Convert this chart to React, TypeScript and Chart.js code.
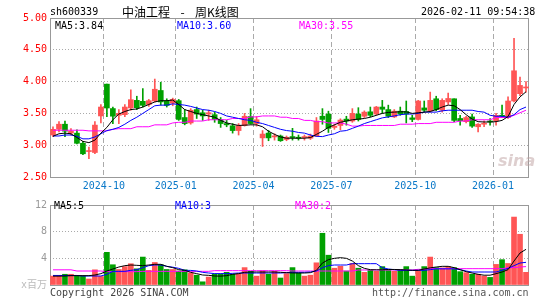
import React, { useEffect, useRef } from "react";
import { Chart, registerables } from "chart.js";

Chart.register(...registerables);

const MONO = '"DejaVu Sans Mono", "Liberation Mono", monospace';
const CJK = '"Noto Sans CJK SC", "Noto Sans", sans-serif';

const categories = [
  "2024-08-09","2024-08-16","2024-08-23","2024-08-30","2024-09-06","2024-09-13","2024-09-20","2024-09-27","2024-09-30","2024-10-11",
  "2024-10-18","2024-10-25","2024-11-01","2024-11-08","2024-11-15","2024-11-22","2024-11-29","2024-12-06","2024-12-13","2024-12-20",
  "2024-12-27","2025-01-03","2025-01-10","2025-01-17","2025-01-24","2025-01-27","2025-02-07","2025-02-14","2025-02-21","2025-02-28",
  "2025-03-07","2025-03-14","2025-03-21","2025-03-28","2025-04-03","2025-04-11","2025-04-18","2025-04-25","2025-04-30","2025-05-09",
  "2025-05-16","2025-05-23","2025-05-30","2025-06-06","2025-06-13","2025-06-20","2025-06-27","2025-07-04","2025-07-11","2025-07-18",
  "2025-07-25","2025-08-01","2025-08-08","2025-08-15","2025-08-22","2025-08-29","2025-09-05","2025-09-12","2025-09-19","2025-09-26",
  "2025-09-30","2025-10-10","2025-10-17","2025-10-24","2025-10-31","2025-11-07","2025-11-14","2025-11-21","2025-11-28","2025-12-05",
  "2025-12-12","2025-12-19","2025-12-26","2025-12-31","2026-01-09","2026-01-16","2026-01-23","2026-01-30","2026-02-06","2026-02-11",
];

const monthTickLabels = ["2024-10", "2025-01", "2025-04", "2025-07", "2025-10", "2026-01"];

const openPrices = [
  3.16,3.25,3.33,3.19,3.19,3.03,2.90,2.885,3.46,3.96,
  3.576,3.47,3.48,3.585,3.705,3.69,3.64,3.695,3.86,3.695,
  3.66,3.70,3.435,3.35,3.56,3.51,3.49,3.48,3.40,3.34,
  3.305,3.23,3.31,3.45,3.34,3.115,3.19,3.13,3.145,3.09,
  3.13,3.12,3.12,3.11,3.145,3.455,3.49,3.28,3.31,3.41,
  3.38,3.49,3.455,3.525,3.49,3.60,3.56,3.445,3.535,3.53,
  3.43,3.405,3.586,3.54,3.73,3.55,3.68,3.73,3.42,3.37,
  3.445,3.29,3.33,3.37,3.385,3.46,3.435,3.695,3.81,3.90,
];
const closePrices = [
  3.25,3.33,3.22,3.22,3.03,2.865,2.91,3.316,3.60,3.585,
  3.456,3.50,3.60,3.716,3.59,3.627,3.70,3.88,3.68,3.625,
  3.72,3.405,3.34,3.55,3.49,3.46,3.51,3.405,3.34,3.32,
  3.23,3.31,3.455,3.34,3.40,3.175,3.115,3.145,3.07,3.125,
  3.12,3.11,3.135,3.145,3.38,3.405,3.265,3.30,3.395,3.38,
  3.50,3.405,3.52,3.47,3.60,3.565,3.455,3.535,3.49,3.49,
  3.405,3.695,3.55,3.705,3.56,3.705,3.735,3.39,3.385,3.435,
  3.30,3.33,3.335,3.365,3.47,3.455,3.695,4.17,3.94,3.915,
];
const highPrices = [
  3.29,3.37,3.38,3.26,3.24,3.06,2.97,3.37,3.64,3.96,
  3.60,3.56,3.64,3.87,3.77,3.89,3.72,4.04,3.99,3.73,
  3.74,3.72,3.56,3.575,3.60,3.55,3.55,3.52,3.435,3.39,
  3.34,3.34,3.50,3.575,3.45,3.23,3.23,3.18,3.16,3.145,
  3.265,3.16,3.16,3.175,3.435,3.575,3.535,3.33,3.415,3.455,
  3.575,3.59,3.54,3.60,3.61,3.705,3.63,3.56,3.60,3.695,
  3.47,3.705,3.695,3.835,3.77,3.73,3.82,3.73,3.47,3.455,
  3.49,3.34,3.385,3.42,3.50,3.63,3.76,4.68,4.07,4.00,
];
const lowPrices = [
  3.135,3.21,3.135,3.16,3.02,2.85,2.79,2.865,3.35,3.45,
  3.34,3.34,3.45,3.55,3.56,3.60,3.61,3.68,3.63,3.60,
  3.62,3.39,3.32,3.33,3.42,3.39,3.39,3.36,3.28,3.29,
  3.19,3.16,3.30,3.33,3.30,2.98,3.07,3.08,3.06,3.07,
  3.08,3.08,3.08,3.09,3.135,3.33,3.20,3.25,3.24,3.315,
  3.36,3.38,3.435,3.445,3.47,3.50,3.435,3.435,3.47,3.35,
  3.37,3.395,3.52,3.52,3.54,3.52,3.64,3.37,3.315,3.35,
  3.28,3.21,3.29,3.315,3.315,3.435,3.42,3.68,3.78,3.835,
];

const priceMa5 = [
  3.14,3.18,3.19,3.18,3.12,3.06,3.04,3.08,3.19,3.28,
  3.40,3.49,3.53,3.56,3.57,3.60,3.64,3.68,3.70,3.70,
  3.71,3.64,3.56,3.53,3.50,3.48,3.46,3.44,3.39,3.35,
  3.33,3.31,3.315,3.32,3.32,3.29,3.22,3.17,3.13,3.11,
  3.11,3.11,3.11,3.12,3.17,3.22,3.28,3.32,3.36,3.38,
  3.40,3.41,3.42,3.44,3.47,3.50,3.515,3.52,3.525,3.525,
  3.50,3.51,3.52,3.53,3.56,3.60,3.63,3.62,3.56,3.48,
  3.41,3.37,3.365,3.365,3.37,3.39,3.45,3.64,3.76,3.84,
];
const priceMa10 = [
  3.145,3.145,3.16,3.16,3.14,3.10,3.10,3.13,3.18,3.23,
  3.25,3.28,3.33,3.39,3.44,3.50,3.56,3.62,3.63,3.63,
  3.65,3.64,3.63,3.61,3.585,3.56,3.55,3.53,3.50,3.46,
  3.44,3.42,3.40,3.39,3.36,3.34,3.31,3.28,3.25,3.23,
  3.22,3.20,3.19,3.16,3.14,3.135,3.16,3.18,3.22,3.23,
  3.265,3.30,3.34,3.37,3.40,3.43,3.445,3.46,3.48,3.49,
  3.49,3.50,3.52,3.52,3.52,3.54,3.55,3.55,3.55,3.55,
  3.55,3.53,3.52,3.47,3.455,3.455,3.44,3.48,3.56,3.60,
];
const priceMa30 = [
  3.235,3.235,3.235,3.235,3.235,3.235,3.225,3.225,3.225,3.225,
  3.25,3.26,3.26,3.26,3.29,3.29,3.29,3.32,3.32,3.32,
  3.35,3.36,3.36,3.38,3.38,3.38,3.40,3.40,3.40,3.40,
  3.42,3.42,3.42,3.445,3.445,3.46,3.46,3.46,3.44,3.44,
  3.42,3.42,3.39,3.39,3.37,3.37,3.35,3.35,3.35,3.33,
  3.30,3.30,3.31,3.31,3.31,3.31,3.31,3.31,3.33,3.33,
  3.33,3.34,3.34,3.34,3.36,3.36,3.36,3.36,3.38,3.38,
  3.40,3.40,3.40,3.40,3.435,3.435,3.435,3.47,3.51,3.55,
];

const volumes = [
  1.33,1.33,1.61,1.61,1.38,1.33,0.90,2.28,1.29,4.90,
  3.04,2.33,2.76,3.19,2.43,4.19,2.19,3.38,3.04,2.33,
  2.33,2.09,2.28,1.81,1.47,0.48,1.19,1.66,1.66,1.90,
  1.61,1.71,2.61,2.05,1.33,2.14,1.61,2.05,1.05,1.71,
  2.61,1.81,1.33,1.47,3.33,7.76,4.47,2.52,2.81,2.09,
  3.24,2.52,1.90,2.19,2.05,2.76,2.19,2.05,2.28,2.76,
  1.33,2.09,2.76,4.19,2.60,2.57,2.76,2.60,2.00,1.85,
  1.61,1.61,1.33,1.14,3.09,3.80,3.23,10.19,7.61,1.90,
];
const volMa5 = [
  1.33,1.33,1.35,1.40,1.40,1.40,1.40,1.50,1.70,2.10,
  2.40,2.70,2.90,3.00,2.95,2.90,3.00,3.10,3.10,2.80,
  2.60,2.30,2.20,1.90,1.70,1.50,1.45,1.35,1.33,1.40,
  1.60,1.70,1.90,1.95,1.95,1.95,1.95,1.95,1.90,1.85,
  1.81,1.80,1.80,1.85,2.20,3.30,3.80,4.00,4.10,4.00,
  3.60,2.90,2.50,2.30,2.28,2.28,2.33,2.33,2.30,2.25,
  2.20,2.20,2.40,2.57,2.70,2.80,2.80,2.60,2.30,2.00,
  1.80,1.60,1.47,1.47,1.70,1.95,2.30,3.60,4.80,5.35,
];
const volMa10 = [
  1.43,1.43,1.43,1.43,1.43,1.35,1.35,1.35,1.35,1.60,
  2.05,2.05,2.05,2.20,2.30,2.60,2.90,3.00,3.00,2.80,
  2.67,2.50,2.20,2.19,2.10,1.90,1.80,1.71,1.71,1.71,
  1.75,1.80,1.80,1.80,1.80,1.80,1.80,1.80,1.80,1.85,
  1.90,1.90,1.90,1.95,2.10,2.60,2.90,3.00,3.00,3.00,
  3.20,3.20,3.20,3.20,3.20,2.60,2.40,2.30,2.20,2.20,
  2.20,2.20,2.20,2.30,2.42,2.42,2.42,2.42,2.30,2.10,
  1.95,1.95,1.95,1.95,1.95,2.20,2.50,2.90,3.30,3.40,
];
const volMa30 = [
  2.28,2.28,2.28,2.28,2.10,2.10,2.10,2.10,2.10,2.00,
  2.00,2.00,2.00,2.00,2.00,2.05,2.05,2.05,2.05,2.05,
  2.05,2.05,2.05,2.05,2.05,2.05,2.05,2.15,2.15,2.15,
  2.15,2.15,2.15,2.15,2.15,2.15,2.15,2.15,2.15,2.15,
  2.10,2.10,2.10,2.10,2.10,2.10,2.10,2.10,2.10,2.10,
  2.10,2.25,2.25,2.25,2.25,2.25,2.25,2.25,2.25,2.25,
  2.25,2.35,2.35,2.45,2.45,2.45,2.45,2.45,2.45,2.45,
  2.45,2.45,2.45,2.45,2.45,2.45,2.60,2.60,2.70,2.76,
];

const UP = "#ff5555";
const DOWN = "#00a000";
const candleColors = closePrices.map((c, i) => (c >= openPrices[i] ? UP : DOWN));

const monthIdx = new Map<number, string>();
monthTickLabels.forEach((m) => {
  const idx = categories.findIndex((c) => c.startsWith(m));
  if (idx >= 0) monthIdx.set(idx, m);
});

const framePlugin = {
  id: "frame",
  beforeDatasetsDraw(chart: any) {
    const { ctx, chartArea: a } = chart;
    ctx.save();
    ctx.strokeStyle = "#999999";
    ctx.lineWidth = 1;
    const l = Math.round(a.left) + 0.5;
    const t = Math.round(a.top) + 0.5;
    const r = Math.round(a.right) - 0.5;
    const b = Math.round(a.bottom) + 0.5;
    ctx.strokeRect(l, t, r - l, b - t);
    ctx.restore();
  },
};

const xScale = (showLabels: boolean) => ({
  type: "category",
  offset: true,
  grid: {
    offset: true,
    drawTicks: false,
    lineWidth: 1,
    color: (ctx: any) => (monthIdx.has(ctx.index) ? "#aaaaaa" : "rgba(0,0,0,0)"),
  },
  border: { display: false, dash: [5, 3] },
  ticks: {
    display: showLabels,
    autoSkip: false,
    maxRotation: 0,
    minRotation: 0,
    padding: 3,
    labelOffset: -3,
    color: "#0a78c8",
    font: { family: MONO, size: 10 },
    callback: (_v: any, i: number) => monthIdx.get(i) ?? "",
  },
  afterFit: (s: any) => {
    s.height = showLabels ? 19 : 0;
  },
});

const line = (label: string, data: number[], color: string) => ({
  type: "line" as const,
  label,
  data,
  borderColor: color,
  backgroundColor: color,
  borderWidth: 1,
  pointRadius: 0,
  pointHoverRadius: 0,
  fill: false,
  tension: 0,
  order: 0,
});

const txt = (
  left: number,
  cy: number,
  color: string,
  size = 10,
  family = MONO
): React.CSSProperties => ({
  position: "absolute",
  left,
  top: cy - Math.round(size * 0.6),
  color,
  fontFamily: family,
  fontSize: size,
  lineHeight: `${Math.round(size * 1.2)}px`,
  whiteSpace: "pre",
});

export default function App() {
  const priceRef = useRef<HTMLCanvasElement>(null);
  const volRef = useRef<HTMLCanvasElement>(null);

  useEffect(() => {
    const pc = new Chart(priceRef.current as HTMLCanvasElement, {
      type: "bar",
      data: {
        labels: categories,
        datasets: [
          line("MA5", priceMa5, "#000000"),
          line("MA10", priceMa10, "#0000ff"),
          line("MA30", priceMa30, "#ff00ff"),
          {
            type: "bar",
            label: "body",
            data: openPrices.map((o, i) => [o, closePrices[i]]),
            backgroundColor: candleColors,
            borderWidth: 0,
            barThickness: 5,
            grouped: false,
            minBarLength: 1,
            order: 1,
          } as any,
          {
            type: "bar",
            label: "wick",
            data: lowPrices.map((l, i) => [l, highPrices[i]]),
            backgroundColor: candleColors,
            borderWidth: 0,
            barThickness: 1,
            grouped: false,
            order: 2,
          } as any,
        ],
      },
      options: {
        animation: false,
        responsive: false,
        events: [],
        layout: { padding: { left: 0, right: 16, top: 18, bottom: 0 } },
        plugins: { legend: { display: false }, tooltip: { enabled: false } },
        scales: {
          x: xScale(true) as any,
          y: {
            min: 2.5,
            max: 5,
            ticks: {
              stepSize: 0.5,
              color: "#ff0000",
              padding: 3,
              font: { family: MONO, size: 10 },
              callback: (v: any) => Number(v).toFixed(2),
            },
            grid: { color: "#aaaaaa", drawTicks: false, lineWidth: 1 },
            border: { display: false, dash: [1, 2] },
            afterFit: (s: any) => {
              s.width = 50;
            },
          } as any,
        },
      },
      plugins: [framePlugin],
    });

    const vc = new Chart(volRef.current as HTMLCanvasElement, {
      type: "bar",
      data: {
        labels: categories,
        datasets: [
          line("MA5", volMa5, "#000000"),
          line("MA10", volMa10, "#0000ff"),
          line("MA30", volMa30, "#ff00ff"),
          {
            type: "bar",
            label: "vol",
            data: volumes,
            backgroundColor: candleColors,
            borderWidth: 0,
            barThickness: 5,
            grouped: false,
            order: 1,
          } as any,
        ],
      },
      options: {
        animation: false,
        responsive: false,
        events: [],
        layout: { padding: { left: 0, right: 16, top: 5, bottom: 15 } },
        plugins: { legend: { display: false }, tooltip: { enabled: false } },
        scales: {
          x: xScale(false) as any,
          y: {
            min: 0,
            max: 12,
            ticks: {
              stepSize: 4,
              padding: 3,
              color: (ctx: any) => (ctx.tick && ctx.tick.value === 0 ? "#bbbbbb" : "#999999"),
              font: { family: `${MONO}, "Noto Sans CJK SC"`, size: 10 },
              callback: (v: any) => (Number(v) === 0 ? "x百万" : String(v)),
            },
            grid: { color: "#aaaaaa", drawTicks: false, lineWidth: 1 },
            border: { display: false, dash: [1, 2] },
            afterFit: (s: any) => {
              s.width = 50;
            },
          } as any,
        },
      },
      plugins: [framePlugin],
    });

    return () => {
      pc.destroy();
      vc.destroy();
    };
  }, []);

  return (
    <div
      style={{
        position: "absolute",
        left: 0,
        top: 0,
        width: 545,
        height: 300,
        background: "#ffffff",
        overflow: "hidden",
      }}
    >
      <canvas
        ref={priceRef}
        width={545}
        height={196}
        style={{ position: "absolute", left: 0, top: 0, width: 545, height: 196 }}
      />
      <canvas
        ref={volRef}
        width={545}
        height={104}
        style={{ position: "absolute", left: 0, top: 196, width: 545, height: 104 }}
      />
      <div style={txt(50, 12, "#000000")}>sh600339</div>
      <div style={txt(122, 12, "#000000", 12, CJK)}>
        中油工程
        <span style={{ display: "inline-block", width: 25, textAlign: "center" }}>{" - "}</span>
        周K线图
      </div>
      <div style={txt(421, 12, "#000000")}>2026-02-11 09:54:38</div>
      <div style={txt(55, 26, "#000000")}>MA5:3.84</div>
      <div style={txt(177, 26, "#0000ff")}>MA10:3.60</div>
      <div style={txt(299, 26, "#ff00ff")}>MA30:3.55</div>
      <div style={txt(54, 206, "#000000")}>MA5:5</div>
      <div style={txt(175, 206, "#0000ff")}>MA10:3</div>
      <div style={txt(295, 206, "#ff00ff")}>MA30:2</div>
      <div style={txt(50, 293, "#444444")}>Copyright 2026 SINA.COM</div>
      <div style={txt(372, 293, "#555555")}>http://finance.sina.com.cn</div>
      <div
        style={{
          position: "absolute",
          left: 498,
          top: 151,
          color: "rgba(190,160,160,0.5)",
          fontFamily: '"DejaVu Sans", sans-serif',
          fontSize: 16,
          fontStyle: "italic",
          fontWeight: "bold",
          lineHeight: "20px",
        }}
      >
        sina
      </div>
    </div>
  );
}
